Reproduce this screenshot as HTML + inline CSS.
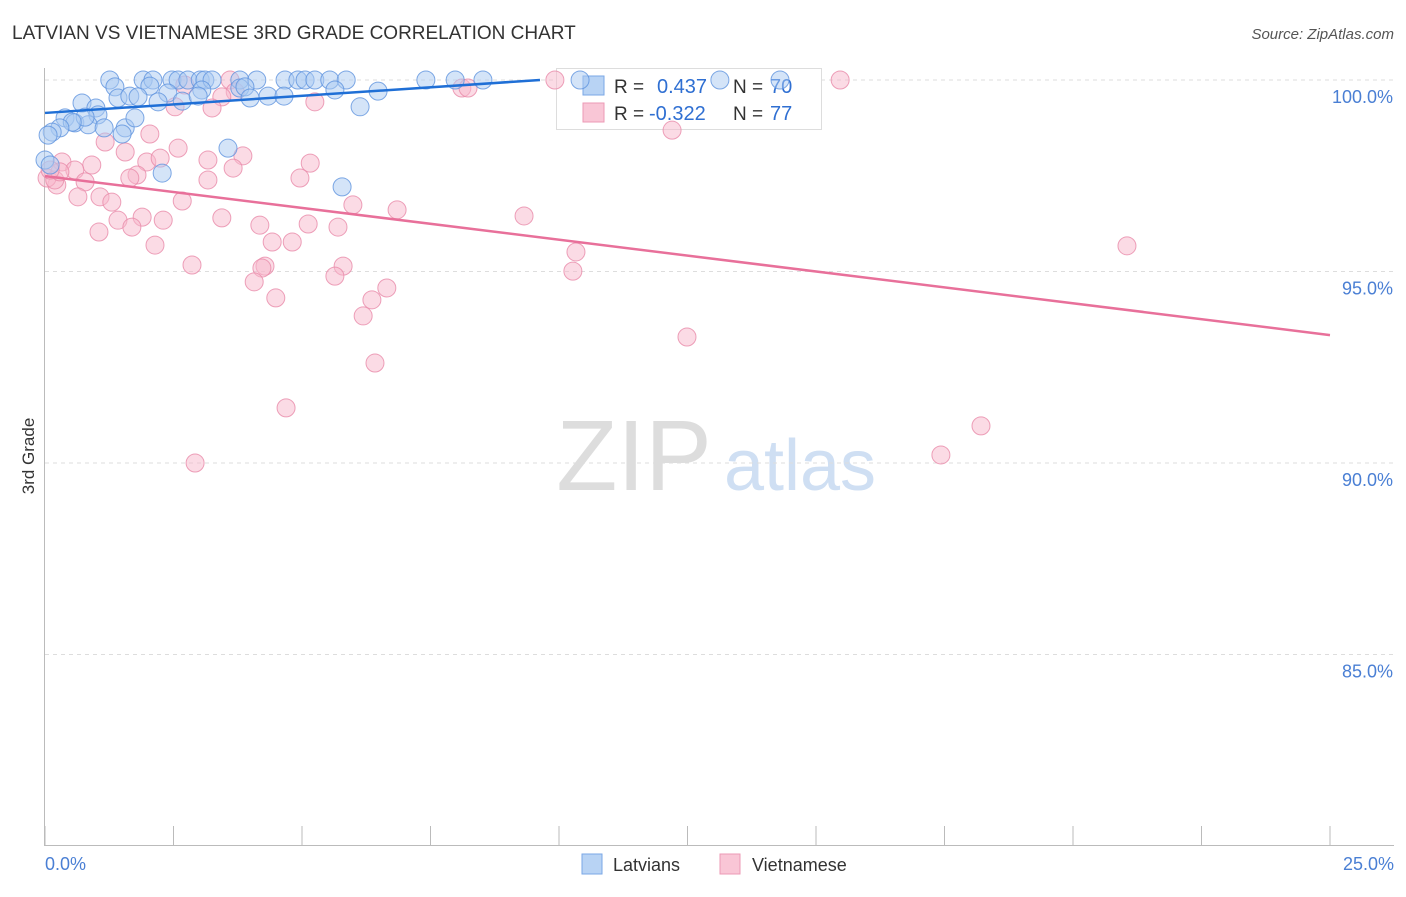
<!DOCTYPE html>
<html><head><meta charset="utf-8">
<style>
body{margin:0;background:#fff;font-family:"Liberation Sans",sans-serif;}
svg text{font-family:"Liberation Sans",sans-serif;}
</style></head>
<body>
<svg id="chart" width="1406" height="892" xmlns="http://www.w3.org/2000/svg">
<text x="12" y="39" font-size="19" fill="#333">LATVIAN VS VIETNAMESE 3RD GRADE CORRELATION CHART</text>
<text x="1394" y="39" font-size="15" fill="#555" font-style="italic" text-anchor="end">Source: ZipAtlas.com</text>
<text transform="translate(34,456) rotate(-90)" font-size="17" fill="#333" text-anchor="middle">3rd Grade</text>
<text x="634" y="490" font-size="100" fill="#ddd" font-family="Liberation Serif" text-anchor="middle">ZIP</text>
<text x="800" y="490" font-size="72" fill="#cfdff3" text-anchor="middle">atlas</text>
<g id="grid"></g>
<g id="axes"></g>
<g>
<rect x="556.5" y="68.5" width="265" height="61" fill="#fff" stroke="#ddd"/>
<rect x="583" y="76" width="21" height="19" fill="#b8d3f4" stroke="#7aa7e6"/>
<rect x="583" y="103" width="21" height="19" fill="#f9c6d6" stroke="#ec9ab5"/>
<text x="614" y="93" font-size="19" fill="#333">R =</text>
<text x="657" y="93" font-size="20" fill="#2f6fd2">0.437</text>
<text x="733" y="93" font-size="19" fill="#333">N =</text>
<text x="770" y="93" font-size="20" fill="#2f6fd2">70</text>
<text x="614" y="120" font-size="19" fill="#333">R =</text>
<text x="649" y="120" font-size="20" fill="#2f6fd2">-0.322</text>
<text x="733" y="120" font-size="19" fill="#333">N =</text>
<text x="770" y="120" font-size="20" fill="#2f6fd2">77</text>
</g>
<g id="pts"></g>
<g id="lines"></g>
<g>
<rect x="582" y="854" width="20" height="20" fill="#b8d3f4" stroke="#7aa7e6"/>
<text x="613" y="871" font-size="18" fill="#333">Latvians</text>
<rect x="720" y="854" width="20" height="20" fill="#f9c6d6" stroke="#ec9ab5"/>
<text x="752" y="871" font-size="18" fill="#333">Vietnamese</text>
</g>
</svg>
<script>
const yTicks=[100,95,90,85];
const yTickLabels=["100.0%","95.0%","90.0%","85.0%"];
const xTickCount=10;
const xEndLabels=["0.0%","25.0%"];
const latX=[1.26,1.91,2.10,2.47,2.59,2.78,3.02,3.11,3.25,3.79,4.12,4.67,4.92,5.06,5.25,5.54,5.86,7.41,7.98,8.52,10.41,13.13,14.30,1.36,2.04,2.39,3.05,3.79,3.89,5.64,6.48,1.42,1.65,1.81,2.20,2.67,2.98,3.99,4.34,4.65,6.13,0.72,0.99,1.03,0.39,0.58,0.84,1.15,1.56,1.75,0.78,0.53,0.29,0.14,0.06,1.50,3.56,2.28,5.78,0,0.10];
const latY=[100,100,100,100,100,100,100,100,100,100,100,100,100,100,100,100,100,100,100,100,100,100,100,99.82,99.84,99.66,99.74,99.79,99.82,99.74,99.71,99.53,99.58,99.56,99.43,99.45,99.58,99.53,99.58,99.58,99.30,99.40,99.27,99.09,99.01,98.88,98.83,98.75,98.75,99.01,99.03,98.90,98.75,98.64,98.56,98.59,98.22,97.57,97.21,97.91,97.78];
const vieX=[9.92,15.47,3.60,2.72,8.11,8.23,3.70,3.44,5.25,2.53,3.25,12.20,2.04,1.17,1.56,2.59,3.17,3.85,1.98,2.24,0.91,0.33,0.58,3.66,5.16,1.79,0.78,0.23,1.65,3.17,4.96,0.64,1.07,1.30,2.67,5.99,6.85,9.32,1.42,1.89,2.30,3.44,4.18,5.12,5.70,1.05,1.69,2.14,4.42,4.81,10.33,21.05,2.86,4.28,4.22,5.80,10.27,5.64,4.07,6.65,4.49,6.36,6.19,12.49,6.42,18.21,4.69,17.43,2.92,0.04,0.19,0.29,0.10];
const vieY=[100,100,100,99.87,99.79,99.79,99.69,99.56,99.43,99.30,99.27,98.69,98.59,98.38,98.12,98.22,97.91,98.02,97.86,97.96,97.78,97.86,97.65,97.70,97.83,97.52,97.34,97.26,97.44,97.39,97.44,96.95,96.95,96.81,96.84,96.74,96.61,96.45,96.34,96.42,96.34,96.40,96.21,96.24,96.16,96.03,96.16,95.69,95.77,95.77,95.51,95.67,95.17,95.14,95.09,95.14,95.01,94.88,94.73,94.57,94.31,94.26,93.84,93.29,92.61,90.97,91.44,90.21,90.00,97.44,97.39,97.60,97.65];
const latTrendX=[0,9.63];
const latTrendY=[99.14,100.0];
const vieTrendX=[0,25];
const vieTrendY=[97.49,93.34];

const NS="http://www.w3.org/2000/svg";
const X0=45,X1=1330,Y100=80,PXPER=38.3;
function sx(v){return X0+(X1-X0)*v/25;}
function sy(v){return Y100+(100-v)*PXPER;}
function mk(tag,attrs,parent){const e=document.createElementNS(NS,tag);for(const k in attrs)e.setAttribute(k,attrs[k]);parent.appendChild(e);return e;}
const grid=document.getElementById('grid'),axes=document.getElementById('axes'),pts=document.getElementById('pts'),lines=document.getElementById('lines');
yTicks.forEach((t,i)=>{
  const l=mk('line',{x1:X0,x2:1394,y1:sy(t),y2:sy(t),stroke:'#ddd','stroke-dasharray':'4,4'},grid);
  
  
  const tx=mk('text',{x:1393,y:sy(t)+23,'font-size':18,fill:'#4a7fd4','text-anchor':'end'},axes);
  tx.textContent=yTickLabels[i];
  
  
});
const ax=mk('line',{x1:44.5,x2:44.5,y1:68,y2:845,stroke:'#bbb'},axes);


const bx=mk('line',{x1:44,x2:1394,y1:845.5,y2:845.5,stroke:'#bbb'},axes);


for(let i=0;i<=xTickCount;i++){
  const v=25*i/xTickCount;
  const t=mk('line',{x1:sx(v),x2:sx(v),y1:826,y2:845,stroke:'#bbb'},axes);
  
  
}
[[0,'start',45],[25,'end',1394]].forEach((d,i)=>{
  const tx=mk('text',{x:d[2],y:870,'font-size':18,fill:'#4a7fd4','text-anchor':d[1]},axes);
  tx.textContent=xEndLabels[i];
  
  
});
function drawPts(xs,ys,fill,stroke,name){
  xs.forEach((x,i)=>{
    const c=mk('circle',{cx:sx(x),cy:sy(ys[i]),r:9,fill:fill,'fill-opacity':0.5,stroke:stroke,'stroke-opacity':0.8,'stroke-width':1},pts);
    
    
  });
}
drawPts(vieX,vieY,'#f7b7cb','#e98aa9','vietnamese-point');
drawPts(latX,latY,'#a9c9f1','#5f94df','latvian-point');
const l1=mk('line',{x1:sx(latTrendX[0]),y1:sy(latTrendY[0]),x2:sx(latTrendX[1]),y2:sy(latTrendY[1]),stroke:'#1f6fd6','stroke-width':2.5},lines);


const l2=mk('line',{x1:sx(vieTrendX[0]),y1:sy(vieTrendY[0]),x2:sx(vieTrendX[1]),y2:sy(vieTrendY[1]),stroke:'#e8709a','stroke-width':2.5},lines);


</script>
</body></html>
